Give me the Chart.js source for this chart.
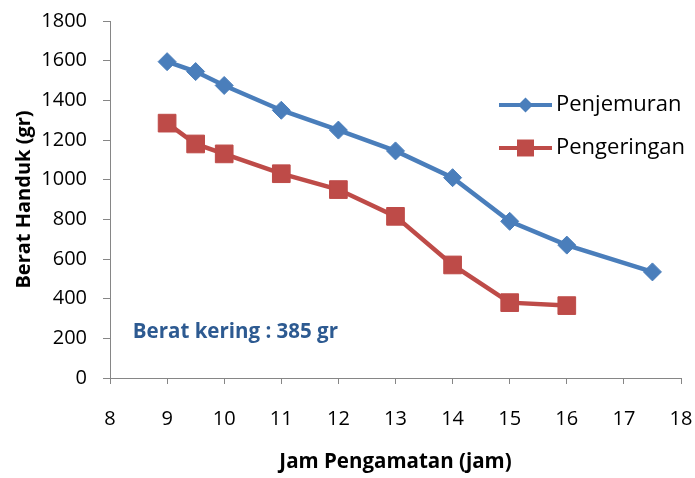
<!DOCTYPE html>
<html>
<head>
<meta charset="utf-8">
<script src="https://cdn.jsdelivr.net/npm/chart.js@4/dist/chart.umd.min.js"></script>
<style>
  html, body { margin: 0; padding: 0; background: #fff; }
  canvas { display: block; }
</style>
</head>
<body>
<canvas id="chart" width="695" height="478"></canvas>
<script>
// Observation hours and towel weights (gr)
const hoursPenjemuran = [9, 9.5, 10, 11, 12, 13, 14, 15, 16, 17.5];
const penjemuran = [1595, 1545, 1475, 1350, 1250, 1145, 1010, 790, 670, 535];

const hoursPengeringan = [9, 9.5, 10, 11, 12, 13, 14, 15, 16];
const pengeringan = [1285, 1180, 1130, 1030, 950, 815, 570, 380, 365];

const seriesNames = ['Penjemuran', 'Pengeringan'];
const xRange = { min: 8, max: 18, step: 1 };
const yRange = { min: 0, max: 1800, step: 200 };
const dryWeightNote = 'Berat kering : 385 gr';

const BLUE = '#4A7EBB';
const RED = '#BE4B48';
const AXIS = '#868686';
const FONT = '"Open Sans", "Noto Sans", sans-serif';

function toPoints(xs, ys) {
  return xs.map((x, i) => ({ x: x, y: ys[i] }));
}

function drawMarker(ctx, style, x, y, r, color) {
  ctx.save();
  ctx.fillStyle = color;
  ctx.beginPath();
  if (style === 'rectRot') {
    ctx.moveTo(x - r, y);
    ctx.lineTo(x, y - r);
    ctx.lineTo(x + r, y);
    ctx.lineTo(x, y + r);
    ctx.closePath();
  } else {
    const s = r * Math.SQRT1_2;
    ctx.rect(x - s, y - s, 2 * s, 2 * s);
  }
  ctx.fill();
  ctx.restore();
}

// Legend placed inside the plot area, plus the dry-weight note
const overlay = {
  id: 'overlay',
  afterDraw(chart) {
    const ctx = chart.ctx;
    const rows = [
      { y: 105, color: BLUE, style: 'rectRot', r: 7.5, text: seriesNames[0] },
      { y: 148, color: RED, style: 'rect', r: 12, text: seriesNames[1] }
    ];
    ctx.save();
    rows.forEach(row => {
      ctx.strokeStyle = row.color;
      ctx.lineWidth = 4;
      ctx.beginPath();
      ctx.moveTo(499, row.y);
      ctx.lineTo(552, row.y);
      ctx.stroke();
      drawMarker(ctx, row.style, 525.5, row.y, row.r, row.color);
      ctx.fillStyle = '#000';
      ctx.font = '22px ' + FONT;
      ctx.textAlign = 'left';
      ctx.textBaseline = 'middle';
      ctx.fillText(row.text, 556, row.y);
    });

    const xs = chart.scales.x, ys = chart.scales.y;
    ctx.fillStyle = '#2D5A91';
    ctx.font = 'bold 20.5px ' + FONT;
    ctx.textAlign = 'left';
    ctx.textBaseline = 'middle';
    ctx.fillText(dryWeightNote, xs.getPixelForValue(8.4), ys.getPixelForValue(230));
    ctx.restore();
  }
};

new Chart(document.getElementById('chart'), {
  type: 'line',
  data: {
    datasets: [
      {
        label: seriesNames[0],
        data: toPoints(hoursPenjemuran, penjemuran),
        borderColor: BLUE,
        backgroundColor: BLUE,
        borderWidth: 4.5,
        pointStyle: 'rectRot',
        pointRadius: 9,
        pointBorderWidth: 1,
        tension: 0
      },
      {
        label: seriesNames[1],
        data: toPoints(hoursPengeringan, pengeringan),
        borderColor: RED,
        backgroundColor: RED,
        borderWidth: 4.5,
        pointStyle: 'rect',
        pointRadius: 12.5,
        pointBorderWidth: 1,
        tension: 0
      }
    ]
  },
  options: {
    responsive: false,
    animation: false,
    layout: { padding: { top: 21, right: 14, bottom: 0, left: 0 } },
    plugins: { legend: { display: false }, tooltip: { enabled: false } },
    scales: {
      x: {
        type: 'linear',
        min: xRange.min,
        max: xRange.max,
        afterFit(scale) {
          scale.height = 100;
          scale.paddingLeft = 0;
          scale.paddingRight = 0;
        },
        ticks: { stepSize: xRange.step, color: '#000', padding: 23, font: { family: FONT, size: 20 },
                 callback: v => String(v) },
        grid: { drawOnChartArea: false, drawTicks: true, tickLength: 6, color: AXIS },
        border: { color: AXIS, width: 1 },
        title: {
          display: true,
          text: 'Jam Pengamatan (jam)',
          color: '#000',
          font: { family: FONT, size: 20.5, weight: 'bold' },
          padding: { top: 0, bottom: 4 }
        }
      },
      y: {
        min: yRange.min,
        max: yRange.max,
        afterFit(scale) {
          scale.width = 110;
          scale.paddingTop = 0;
          scale.paddingBottom = 0;
        },
        ticks: { stepSize: yRange.step, color: '#000', padding: 16, font: { family: FONT, size: 20 },
                 callback: v => String(v) },
        grid: { drawOnChartArea: false, drawTicks: true, tickLength: 7, color: AXIS },
        border: { color: AXIS, width: 1 },
        title: {
          display: true,
          text: 'Berat Handuk (gr)',
          color: '#000',
          font: { family: FONT, size: 20, weight: 'bold' },
          padding: { top: 12, bottom: 0 }
        }
      }
    }
  },
  plugins: [overlay]
});
</script>
</body>
</html>
